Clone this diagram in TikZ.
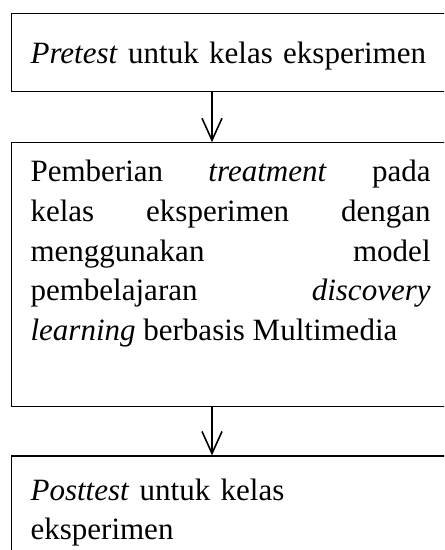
\documentclass[tikz,border=0pt]{standalone}
\usepackage{fontspec}
\setmainfont{Liberation Serif}
\usetikzlibrary{arrows.meta, positioning}
\tikzset{
  stepbox/.style={rectangle, draw=black, line width=0.6pt, text width=200pt,
                  inner xsep=9.5pt, inner ysep=0pt,
                  font=\fontsize{15.5}{19.85}\selectfont},
  arrow/.style={-{Straight Barb[length=11pt, width=10pt]}, line width=0.8pt},
}

\begin{document}
\begin{tikzpicture}
  \clip (0,0) rectangle (222pt,-275pt);
  \coordinate (ax) at (106pt,0);

  \node[stepbox, align=left, text width=215pt, text height=25pt, text depth=14pt, anchor=north west] (pre) at (5.5pt,-6.5pt)
    {\textit{Pretest} untuk kelas eksperimen};
  \node[stepbox, align=justify, text height=19.5pt, text depth=112.5pt, below=25pt of pre.south west, anchor=north west] (treat)
    {Pemberian \textit{treatment} pada\linebreak kelas eksperimen dengan\linebreak menggunakan model\linebreak
     pembelajaran \textit{discovery}\linebreak \textit{learning} berbasis Multimedia};
  \node[stepbox, align=left, text height=22pt, text depth=60pt, below=24pt of treat] (post)
    {\textit{Posttest} untuk kelas\\eksperimen};

  \draw[arrow] (pre.south -| ax) -- (treat.north -| ax);
  \draw[arrow] (treat.south -| ax) -- (post.north -| ax);
\end{tikzpicture}
\end{document}
